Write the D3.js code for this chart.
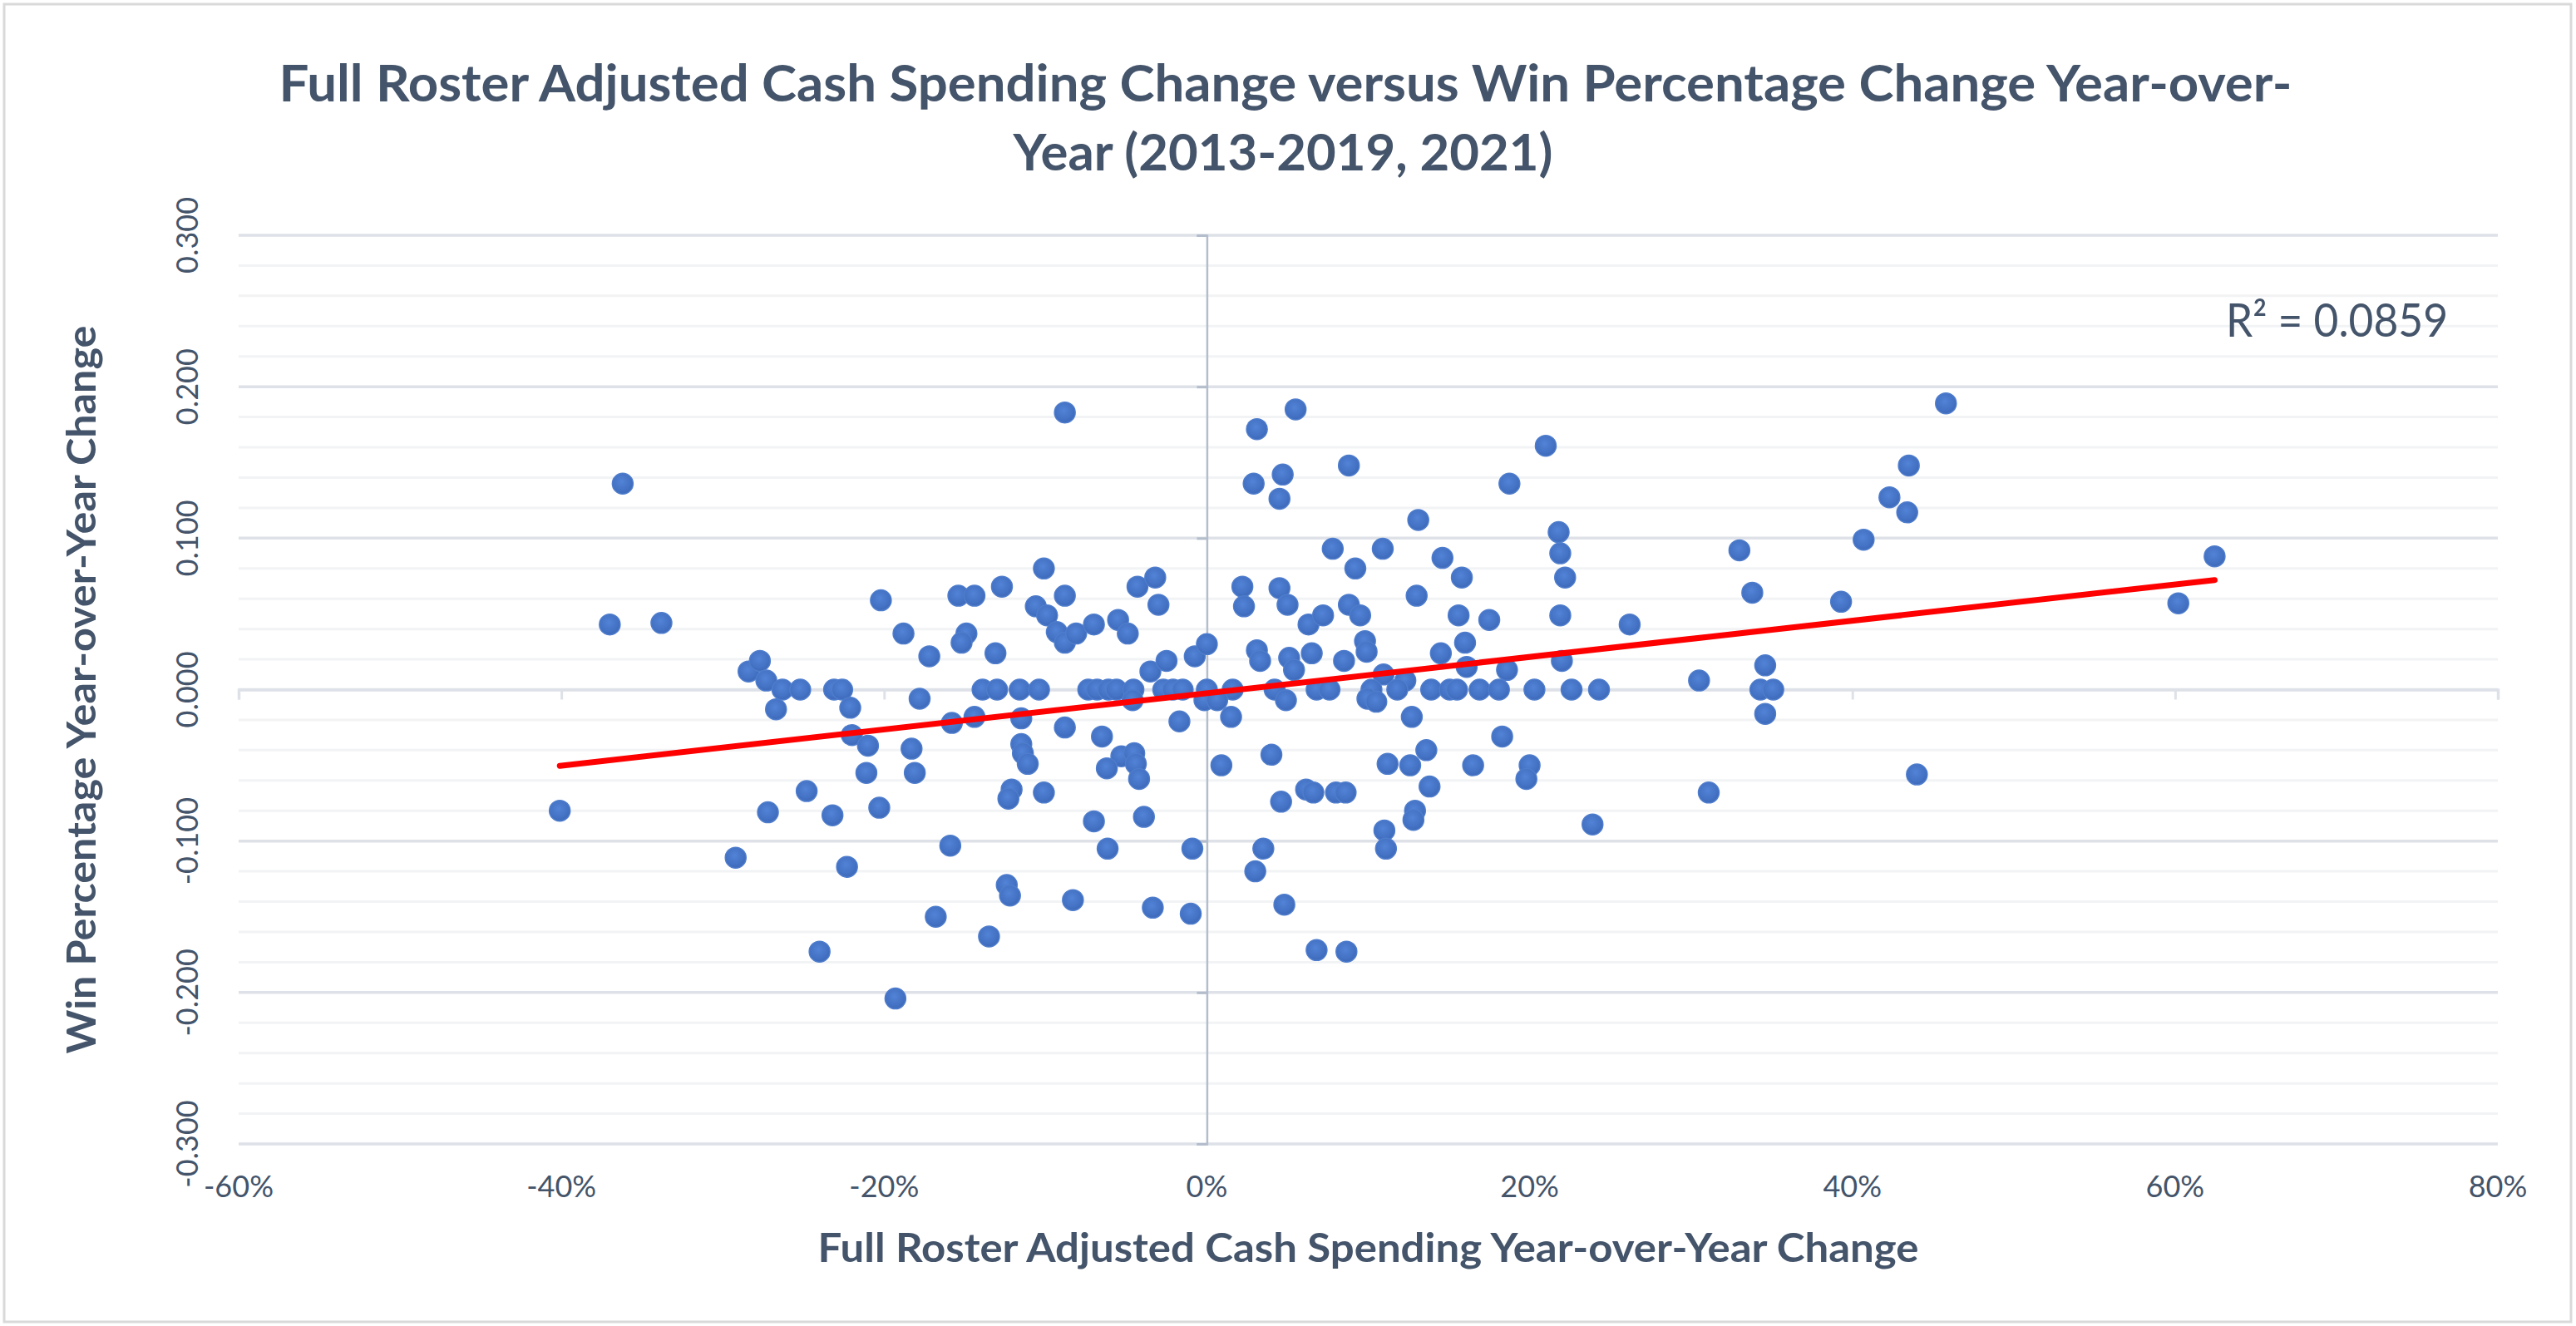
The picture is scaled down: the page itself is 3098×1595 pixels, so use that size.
<!DOCTYPE html>
<html>
<head>
<meta charset="utf-8">
<script src="https://cdn.jsdelivr.net/npm/d3@7"></script>
<style>
  html, body { margin: 0; padding: 0; background: #ffffff; }
  svg { display: block; }
  text { font-family: Lato, "Open Sans", "DejaVu Sans", sans-serif; }
</style>
</head>
<body>
<svg id="chart" width="3098" height="1595"></svg>
<script>
// ---------------- DATA ----------------
const titleLines = [
  "Full Roster Adjusted Cash Spending Change versus Win Percentage Change Year-over-",
  "Year (2013-2019, 2021)"
];
const xAxisTitle = "Full Roster Adjusted Cash Spending Year-over-Year Change";
const yAxisTitle = "Win Percentage Year-over-Year Change";
const rSquaredLabel = "R\u00B2 = 0.0859";

const xTicks = [-60, -40, -20, 0, 20, 40, 60, 80];          // percent
const yTicks = [-0.3, -0.2, -0.1, 0, 0.1, 0.2, 0.3];
const yMinorTicks = d3.range(-15, 16).map(i => i * 0.02);

// Spending change (%) per team-season
const spendChange = [
  -36.2, -37.0, -33.8, -20.2, -18.8, -17.2, -15.4, -14.4, -12.7, -10.1,
  -10.6, -9.9, -14.9, -15.2, -13.1, -8.8, -8.8, -9.3, -28.4, -27.7,
  -27.3, -26.3, -25.2, -23.1, -22.6, -17.8, -13.9, -13.0, -11.6, -10.4,
  -40.1, -26.7, -22.1, -22.0, -21.0, -18.3, -21.1, -18.1, -15.8, -14.4,
  -11.5, -11.5, -11.4, -11.1, -24.8, -27.2, -23.2, -20.3, -12.1, -12.3,
  -10.1, -29.2, -22.3, -15.9, -12.4, -12.2, -16.8, -13.5, -24.0, -19.3,
  3.1, 5.5, 21.0, 8.8, 2.9, 4.7, 4.5, 18.75, 13.1, 21.8,
  21.9, 22.2, 21.9, 22.0, 22.6, 7.8, 10.9, 9.2, 14.6, 15.8,
  13.0, 15.6, 17.5, 16.0, 14.5, 16.1, 18.6, 20.3, 2.2, 2.3,
  4.5, 5.0, 6.3, 7.2, 8.8, 9.5, 9.8, 9.9, 6.5, 8.5,
  3.1, 3.3, 5.1, 5.4, 10.95, 12.3, -7.35, -6.8, -6.1, -5.6,
  -4.55, -2.7, -2.1, -1.5, 0.0, 1.6, 4.2, 6.8, 7.6, 10.2,
  11.8, 13.9, 15.05, 15.5, 16.9, 18.1, -8.8, -8.1, -7.0, -5.5,
  -4.9, -4.3, -3.2, -3.0, -3.5, -2.5, -0.75, 0.0, -8.8, -6.5,
  -5.3, -4.5, -6.2, -4.4, -4.2, -1.7, -4.6, -0.15, 0.64, 1.5,
  4.9, 9.95, 10.5, 12.7, 18.3, 13.6, 11.2, 12.6, 16.5, 20.0,
  19.8, 13.8, 4.0, 0.9, 4.6, 6.15, 6.6, 8.0, 8.6, 12.9,
  12.8, 11.0, 11.1, 23.9, -7.0, -3.9, -6.15, -0.9, 3.5, 3.0,
  -8.3, -3.35, -1.0, 4.8, 6.8, 8.65, 45.8, 43.5, 42.3, 43.4,
  40.7, 33.0, 33.8, 39.3, 26.2, 34.6, 30.5, 24.3, 34.3, 35.1,
  34.6, 31.1, 44.0, 60.2, 62.45
];

// Win percentage change per team-season (same order)
const winChange = [
  0.136, 0.043, 0.044, 0.059, 0.037, 0.022, 0.062, 0.062, 0.068, 0.080,
  0.055, 0.049, 0.037, 0.031, 0.024, 0.183, 0.062, 0.038, 0.012, 0.019,
  0.006, 0.000, 0.000, 0.000, 0.000, -0.006, 0.000, 0.000, 0.000, 0.000,
  -0.080, -0.013, -0.012, -0.030, -0.037, -0.039, -0.055, -0.055, -0.022, -0.018,
  -0.019, -0.036, -0.042, -0.049, -0.067, -0.081, -0.083, -0.078, -0.066, -0.072,
  -0.068, -0.111, -0.117, -0.103, -0.129, -0.136, -0.150, -0.163, -0.173, -0.204,
  0.172, 0.185, 0.161, 0.148, 0.136, 0.142, 0.126, 0.136, 0.112, 0.104,
  0.090, 0.074, 0.049, 0.019, 0.000, 0.093, 0.093, 0.080, 0.087, 0.074,
  0.062, 0.049, 0.046, 0.031, 0.024, 0.015, 0.013, 0.000, 0.068, 0.055,
  0.067, 0.056, 0.043, 0.049, 0.056, 0.049, 0.032, 0.025, 0.024, 0.019,
  0.026, 0.019, 0.021, 0.013, 0.010, 0.006, 0.000, 0.000, 0.000, 0.000,
  0.000, 0.000, 0.000, 0.000, 0.000, 0.000, 0.000, 0.000, 0.000, 0.000,
  0.000, 0.000, 0.000, 0.000, 0.000, 0.000, 0.031, 0.037, 0.043, 0.046,
  0.037, 0.068, 0.074, 0.056, 0.012, 0.019, 0.022, 0.030, -0.025, -0.031,
  -0.044, -0.042, -0.052, -0.049, -0.059, -0.021, -0.007, -0.007, -0.007, -0.018,
  -0.007, -0.006, -0.008, -0.018, -0.031, -0.040, -0.049, -0.050, -0.050, -0.050,
  -0.059, -0.064, -0.043, -0.050, -0.074, -0.066, -0.068, -0.068, -0.068, -0.080,
  -0.086, -0.093, -0.105, -0.089, -0.087, -0.084, -0.105, -0.105, -0.105, -0.120,
  -0.139, -0.144, -0.148, -0.142, -0.172, -0.173, 0.189, 0.148, 0.127, 0.117,
  0.099, 0.092, 0.064, 0.058, 0.043, 0.016, 0.006, 0.000, 0.000, 0.000,
  -0.016, -0.068, -0.056, 0.057, 0.088
];

// ---------------- CHART ----------------
const W = 3098, H = 1595;
const plot = { left: 287, right: 3004, top: 283, bottom: 1376 };
const textColor = "#44546A";

const svg = d3.select("#chart");

const defs = svg.append("defs");
const grad = defs.append("radialGradient").attr("id", "dotGrad")
  .attr("cx", "45%").attr("cy", "40%").attr("r", "60%");
grad.append("stop").attr("offset", "0%").attr("stop-color", "#5283D6");
grad.append("stop").attr("offset", "70%").attr("stop-color", "#4472C4");
grad.append("stop").attr("offset", "100%").attr("stop-color", "#3D69B9");

// outer border
svg.append("rect")
  .attr("x", 5).attr("y", 5).attr("width", W - 11).attr("height", H - 10)
  .attr("fill", "#ffffff").attr("stroke", "#D9D9D9").attr("stroke-width", 3);

const x = d3.scaleLinear().domain([-60, 80]).range([plot.left, plot.right]);
const y = d3.scaleLinear().domain([-0.3, 0.3]).range([plot.bottom, plot.top]);

// minor gridlines
svg.append("g").selectAll("line").data(yMinorTicks).join("line")
  .attr("x1", plot.left).attr("x2", plot.right)
  .attr("y1", d => y(d)).attr("y2", d => y(d))
  .attr("stroke", "#F2F3F5").attr("stroke-width", 3);

// major gridlines
svg.append("g").selectAll("line").data(yTicks).join("line")
  .attr("x1", plot.left).attr("x2", plot.right)
  .attr("y1", d => y(d)).attr("y2", d => y(d))
  .attr("stroke", "#DEE2E8").attr("stroke-width", 3.5);

// x axis (crossing at y = 0), ticks only, labels placed low
const xAxis = d3.axisBottom(x).tickValues(xTicks).tickSize(12).tickFormat("");
const gx = svg.append("g").attr("transform", `translate(0,${y(0)})`).call(xAxis);
gx.select(".domain").attr("stroke", "#DEE2E8").attr("stroke-width", 3.5);
gx.selectAll(".tick line").attr("stroke", "#DEE2E8").attr("stroke-width", 3);

// y axis (crossing at x = 0)
const yAxis = d3.axisLeft(y).tickValues(yTicks).tickSize(12).tickFormat("");
const gy = svg.append("g").attr("transform", `translate(${x(0)},0)`).call(yAxis);
gy.select(".domain").attr("stroke", "#B4BDCC").attr("stroke-width", 2.5);
gy.selectAll(".tick line").attr("stroke", "#B4BDCC").attr("stroke-width", 3);

// x tick labels (low)
svg.append("g").selectAll("text").data(xTicks).join("text")
  .attr("x", d => x(d)).attr("y", 1440)
  .attr("text-anchor", "middle")
  .attr("font-size", 36).attr("fill", textColor)
  .text(d => d + "%");

// y tick labels (rotated)
svg.append("g").selectAll("text").data(yTicks).join("text")
  .attr("transform", d => `translate(238,${y(d)}) rotate(-90)`)
  .attr("text-anchor", "middle")
  .attr("font-size", 36).attr("fill", textColor)
  .text(d => (Math.abs(d) < 1e-9 ? 0 : d).toFixed(3));

// points
const pts = spendChange.map((v, i) => ({ sx: v, wy: winChange[i] }));
svg.append("g").selectAll("circle").data(pts).join("circle")
  .attr("cx", d => x(d.sx)).attr("cy", d => y(d.wy)).attr("r", 12.5)
  .attr("fill", "url(#dotGrad)").attr("stroke", "#4F7DCC").attr("stroke-width", 1.5);

// linear trendline computed from the data
const n = pts.length;
const mx = d3.mean(pts, d => d.sx), my = d3.mean(pts, d => d.wy);
const sxy = d3.sum(pts, d => (d.sx - mx) * (d.wy - my));
const sxx = d3.sum(pts, d => (d.sx - mx) * (d.sx - mx));
const slope = sxy / sxx, intercept = my - slope * mx;
const xr = d3.extent(pts, d => d.sx);
svg.append("line")
  .attr("x1", x(xr[0])).attr("y1", y(intercept + slope * xr[0]))
  .attr("x2", x(xr[1])).attr("y2", y(intercept + slope * xr[1]))
  .attr("stroke", "#FF0000").attr("stroke-width", 7).attr("stroke-linecap", "round");

// R squared label
svg.append("text")
  .attr("x", 2944).attr("y", 405).attr("text-anchor", "end")
  .attr("font-size", 56).attr("fill", textColor)
  .attr("textLength", 267).attr("lengthAdjust", "spacingAndGlyphs")
  .text(rSquaredLabel);

// title
svg.append("text")
  .attr("x", 1546).attr("y", 122).attr("text-anchor", "middle")
  .attr("font-size", 62).attr("font-weight", "bold").attr("fill", textColor)
  .attr("textLength", 2421).attr("lengthAdjust", "spacingAndGlyphs")
  .text(titleLines[0]);
svg.append("text")
  .attr("x", 1543).attr("y", 205).attr("text-anchor", "middle")
  .attr("font-size", 62).attr("font-weight", "bold").attr("fill", textColor)
  .attr("textLength", 649).attr("lengthAdjust", "spacingAndGlyphs")
  .text(titleLines[1]);

// axis titles
svg.append("text")
  .attr("x", (plot.left + plot.right) / 2).attr("y", 1518).attr("text-anchor", "middle")
  .attr("font-size", 48).attr("font-weight", "bold").attr("fill", textColor)
  .attr("textLength", 1324).attr("lengthAdjust", "spacingAndGlyphs")
  .text(xAxisTitle);
svg.append("text")
  .attr("transform", `translate(115,${(plot.top + plot.bottom) / 2}) rotate(-90)`)
  .attr("text-anchor", "middle")
  .attr("font-size", 48).attr("font-weight", "bold").attr("fill", textColor)
  .attr("textLength", 876).attr("lengthAdjust", "spacingAndGlyphs")
  .text(yAxisTitle);
</script>
</body>
</html>
